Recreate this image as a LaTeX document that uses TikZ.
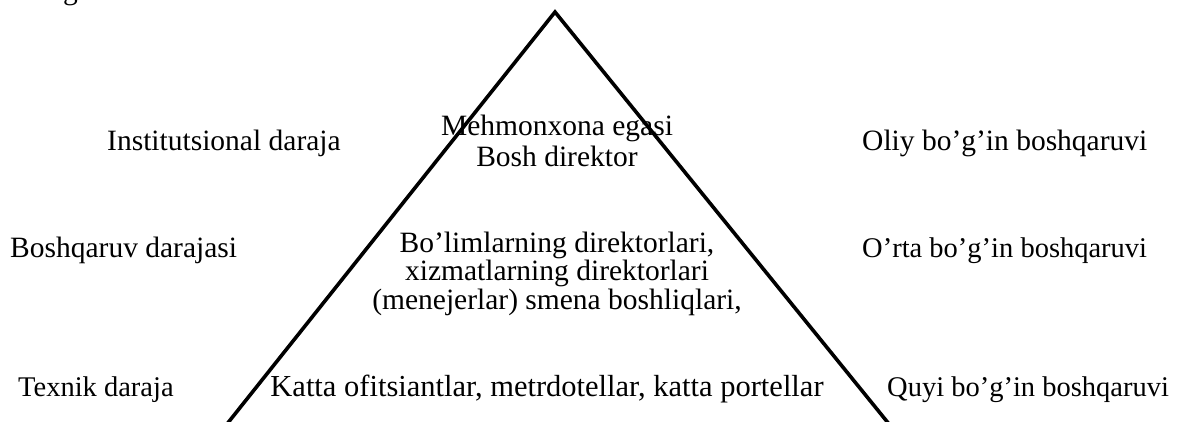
\documentclass[tikz,border=0pt]{standalone}
\usepackage{fontspec}
\setmainfont{Liberation Serif}
\begin{document}
\begin{tikzpicture}[x=1pt,y=-1pt,
  lbl/.style={inner sep=0pt,anchor=base,font=\fontsize{29.5}{34}\selectfont},
  small/.style={font=\fontsize{28.5}{32}\selectfont},
  blk/.style={inner sep=0pt,align=center,font=\fontsize{29.5}{31}\selectfont},
  tight/.style={font=\fontsize{29.5}{28.5}\selectfont},
  side/.style={line width=3.6pt}]
\useasboundingbox (0,0) rectangle (1185,421);
\clip (0,0) rectangle (1185,421);
% tail of the heading line above
\node[lbl,anchor=base west] (head) at (63,-1) {g};
% pyramid outline
\coordinate (apex) at (555,12);
\coordinate (lfoot) at (227,424);
\coordinate (rfoot) at (889,424);
\draw[side,line join=miter] (lfoot) -- (apex) -- (rfoot);
% levels on the left
\node[lbl,anchor=base west] (inst) at (107,150) {Institutsional daraja};
\node[lbl,anchor=base west] (bosh) at (10,257) {Boshqaruv darajasi};
\node[lbl,small,anchor=base west] (tex) at (18,396) {Texnik daraja};
% contents of the pyramid
\node[blk,anchor=base] (top) at (557,166) {Mehmonxona egasi\\Bosh direktor};
\node[blk,tight,anchor=base] (mid) at (557,309) {Bo’limlarning direktorlari,\\xizmatlarning direktorlari\\(menejerlar) smena boshliqlari,};
\node[lbl,font=\fontsize{30.5}{34}\selectfont] (low) at (547,396) {Katta ofitsiantlar, metrdotellar, katta portellar};
% management tiers on the right
\node[lbl,anchor=base west] (oliy) at (862,150) {Oliy bo’g’in boshqaruvi};
\node[lbl,small,anchor=base west] (orta) at (862,257) {O’rta bo’g’in boshqaruvi};
\node[lbl,small,anchor=base west] (quyi) at (887,396) {Quyi bo’g’in boshqaruvi};
\end{tikzpicture}
\end{document}
